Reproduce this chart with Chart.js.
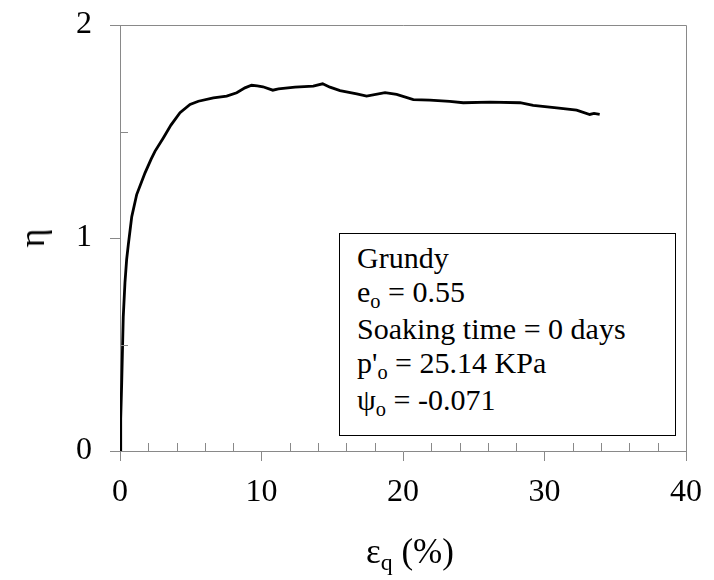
<!DOCTYPE html>
<html>
<head>
<meta charset="utf-8">
<script src="https://cdn.jsdelivr.net/npm/chart.js@4.4.1/dist/chart.umd.min.js"></script>
<style>
  body { margin: 0; background: #fff; }
  #wrap { position: relative; width: 714px; height: 580px; font-family: "Liberation Serif", "Times New Roman", serif; color: #000; }
  #chart { position: absolute; left: 0; top: 0; }
  .note {
    position: absolute; left: 339px; top: 233px; width: 337px; height: 203px;
    box-sizing: border-box; border: 1px solid #000; background: #fff;
    padding: 7px 0 0 17px; font-size: 30px; line-height: 33.5px; white-space: nowrap;
  }
  .sub { font-size: 0.68em; position: relative; top: 0.3em; }
  .ytitle { position: absolute; left: 32px; top: 238px; font-size: 36px; transform: translate(-50%, -50%) rotate(-90deg); }
  .xtitle { position: absolute; left: 410px; top: 552px; font-size: 35px; transform: translate(-50%, -50%); white-space: nowrap; }
</style>
</head>
<body>
<div id="wrap">
  <canvas id="chart" width="714" height="580"></canvas>
  <div class="ytitle">η</div>
  <div class="xtitle">ε<span class="sub">q</span> (%)</div>
  <div class="note">
    Grundy<br>
    e<span class="sub">o</span> = 0.55<br>
    Soaking time = 0 days<br>
    p'<span class="sub">o</span> = 25.14 KPa<br>
    ψ<span class="sub">o</span> = -0.071
  </div>
</div>
<script>
// deviatoric strain (%) and stress ratio
const strain = [0, 0.05, 0.12, 0.23, 0.35, 0.47, 0.59, 0.83, 1.18, 1.77, 2.2, 2.47, 3.06, 3.6, 4.24,
  4.95, 5.54, 6.6, 7.54, 8.25, 8.83, 9.3, 9.7, 10.1, 10.8, 11.2, 12.37, 13.66, 14.32, 14.84,
  15.55, 16.73, 17.43, 18.73, 19.55, 20.73, 21.9, 23.3, 24.26, 26.15, 28.27, 29.2, 30.86,
  32.27, 33.2, 33.5, 33.9];
const eta = [0, 0.15, 0.32, 0.63, 0.79, 0.9, 0.97, 1.1, 1.204, 1.306, 1.37, 1.407, 1.47, 1.53, 1.588,
  1.627, 1.642, 1.658, 1.666, 1.682, 1.705, 1.717, 1.714, 1.71, 1.694, 1.7, 1.708, 1.713, 1.724, 1.708,
  1.692, 1.677, 1.666, 1.682, 1.674, 1.65, 1.647, 1.641, 1.635, 1.638, 1.635, 1.623, 1.611,
  1.6, 1.58, 1.585, 1.58];
const xMajor = 10, xMinor = 2;
const yMajor = 1, yMinor = 0.5;

const axisGrey = '#898989';
const tickFont = { family: '"Liberation Serif", "Times New Roman", serif', size: 32 };

// inside minor ticks plus the top/right frame
const frame = {
  id: 'frame',
  afterDraw(chart) {
    const { ctx, chartArea: a, scales: { x, y } } = chart;
    ctx.save();
    ctx.strokeStyle = axisGrey;
    ctx.lineWidth = 1;
    ctx.beginPath();
    ctx.moveTo(a.left, a.top + 0.5);
    ctx.lineTo(a.right + 0.5, a.top + 0.5);
    ctx.lineTo(a.right + 0.5, a.bottom);
    for (let v = xMinor; v < x.max; v += xMinor) {
      if (Math.abs(v % xMajor) < 1e-9) continue;
      const px = Math.round(x.getPixelForValue(v)) + 0.5;
      ctx.moveTo(px, a.bottom);
      ctx.lineTo(px, a.bottom - 8);
    }
    for (let v = yMinor; v < y.max; v += yMinor) {
      if (Math.abs(v % yMajor) < 1e-9) continue;
      const py = Math.round(y.getPixelForValue(v)) + 0.5;
      ctx.moveTo(a.left, py);
      ctx.lineTo(a.left + 8, py);
    }
    ctx.stroke();
    ctx.restore();
  }
};

new Chart(document.getElementById('chart'), {
  type: 'scatter',
  data: {
    datasets: [{
      data: strain.map((s, i) => ({ x: s, y: eta[i] })),
      showLine: true,
      borderColor: '#000',
      borderWidth: 2.8,
      pointRadius: 0,
      tension: 0
    }]
  },
  options: {
    responsive: false,
    animation: false,
    layout: { padding: { top: 25, right: 28, left: 0, bottom: 0 } },
    plugins: { legend: { display: false }, tooltip: { enabled: false } },
    scales: {
      x: {
        type: 'linear', min: 0, max: 40,
        afterFit(s) { s.height = 129; s.paddingLeft = 0; s.paddingRight = 0; },
        ticks: { stepSize: xMajor, color: '#000', font: tickFont, padding: 12, maxRotation: 0 },
        grid: { drawOnChartArea: false, tickLength: 10, color: axisGrey },
        border: { color: axisGrey }
      },
      y: {
        type: 'linear', min: 0, max: 2,
        afterFit(s) { s.width = 120; s.paddingTop = 0; s.paddingBottom = 0; },
        ticks: { stepSize: yMajor, color: '#000', font: tickFont, padding: 18 },
        grid: { drawOnChartArea: false, tickLength: 10, color: axisGrey },
        border: { color: axisGrey }
      }
    }
  },
  plugins: [frame]
});
</script>
</body>
</html>
